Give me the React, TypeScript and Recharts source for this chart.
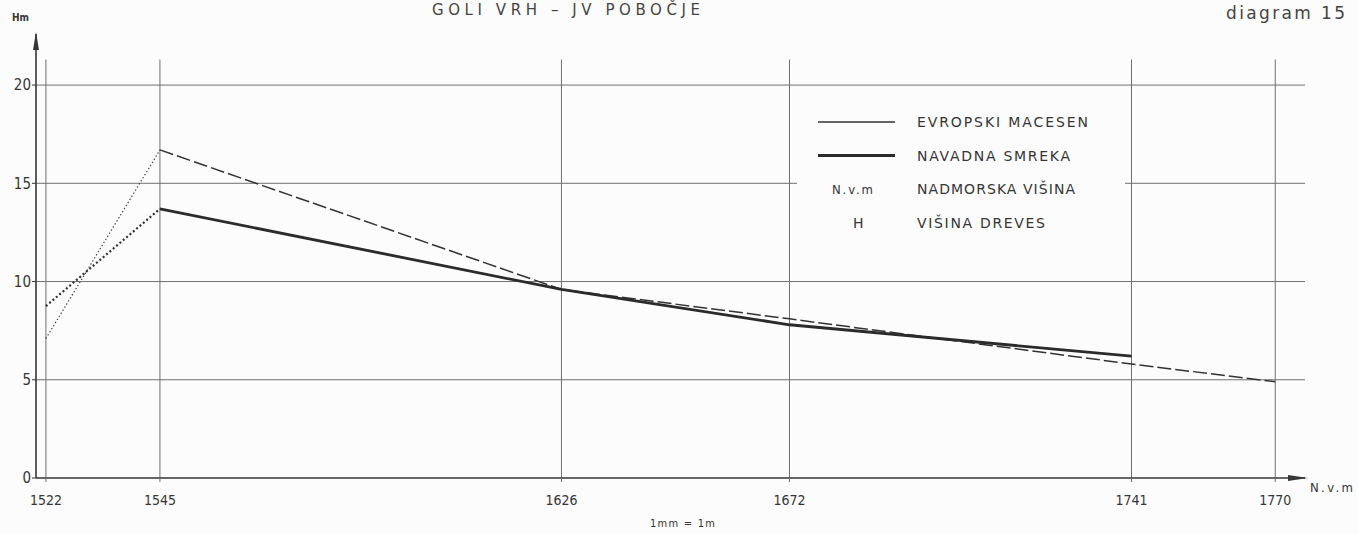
import React from "react";
import { LineChart, Line, XAxis, YAxis, ReferenceLine, ReferenceDot } from "recharts";

// N.v.m (altitude, m) of each plot
const altitudes = [1522, 1545, 1626, 1672, 1741, 1770];
// H (tree height, m) — Evropski macesen (European larch)
const macesenHeights: (number | null)[] = [7.1, 16.7, 9.6, 8.1, 5.8, 4.9];
// H (tree height, m) — Navadna smreka (Norway spruce)
const smrekaHeights: (number | null)[] = [8.75, 13.7, 9.6, 7.8, 6.2, null];
const yTicks = [0, 5, 10, 15, 20];
const xDomain = [1520, 1776];
const yDomain = [0, 22.6];
const gridTop = 21.3;

const legendSeries = ["EVROPSKI MACESEN", "NAVADNA SMREKA"];
const legendSymbols = [
  { sym: "N.v.m", text: "NADMORSKA VIŠINA" },
  { sym: "H", text: "VIŠINA DREVES" },
];

// first segment (1522 -> 1545) is drawn dotted, the rest in the series style
const data = altitudes.map((x, i) => ({
  x,
  macesenLink: i <= 1 ? macesenHeights[i] : null,
  smrekaLink: i <= 1 ? smrekaHeights[i] : null,
  macesen: i >= 1 ? macesenHeights[i] : null,
  smreka: i >= 1 ? smrekaHeights[i] : null,
}));

const INK = "#363636";
const GRID = "#707070";
const COND = "'DejaVu Sans Condensed', 'Liberation Sans Narrow', sans-serif";
const SANS = "'DejaVu Sans', sans-serif";

export default function App() {
  return (
    <div style={{ position: "absolute", left: 0, top: 0, width: 1358, height: 534, background: "#fcfcfc", overflow: "hidden" }}>
      <LineChart width={1358} height={534} data={data} margin={{ top: 34, right: 53, left: 0, bottom: 0 }}>
        {yTicks.filter((t) => t > 0).map((t) => (
          <ReferenceLine
            key={"h" + t}
            segment={[{ x: xDomain[0], y: t }, { x: xDomain[1], y: t }]}
            stroke={GRID}
            strokeWidth={1}
          />
        ))}
        {altitudes.map((a) => (
          <ReferenceLine
            key={a}
            segment={[{ x: a, y: 0 }, { x: a, y: gridTop }]}
            stroke={GRID}
            strokeWidth={1}
          />
        ))}
        <XAxis
          dataKey="x"
          type="number"
          domain={xDomain}
          ticks={altitudes}
          interval={0}
          allowDataOverflow
          height={56}
          axisLine={{ stroke: INK, strokeWidth: 1.6 }}
          tickLine={{ stroke: GRID }}
          tickSize={4}
          tickMargin={13}
          tick={{ fontSize: 14, fill: INK, fontFamily: COND }}
        />
        <YAxis
          type="number"
          domain={yDomain}
          ticks={yTicks}
          interval={0}
          allowDataOverflow
          width={36}
          axisLine={{ stroke: INK, strokeWidth: 1.6 }}
          tickLine={{ stroke: INK }}
          tickSize={4}
          tickMargin={1}
          tick={{ fontSize: 15, fill: INK, fontFamily: COND }}
        />
        <ReferenceDot
          x={xDomain[0]}
          y={yDomain[1]}
          r={0}
          shape={(p: any) => (
            <path d={`M${p.cx} ${p.cy - 2} L${p.cx - 3} ${p.cy + 16} L${p.cx + 3} ${p.cy + 16} Z`} fill={INK} />
          )}
        />
        <ReferenceDot
          x={xDomain[1]}
          y={0}
          r={0}
          shape={(p: any) => (
            <path d={`M${p.cx + 3} ${p.cy} L${p.cx - 17} ${p.cy - 3} L${p.cx - 17} ${p.cy + 3} Z`} fill={INK} />
          )}
        />
        <Line type="linear" dataKey="macesenLink" stroke="#444" strokeWidth={1.2} strokeDasharray="1.4 2.2" dot={false} isAnimationActive={false} />
        <Line type="linear" dataKey="smrekaLink" stroke="#333" strokeWidth={2.2} strokeDasharray="2 2.4" dot={false} isAnimationActive={false} />
        <Line type="linear" dataKey="macesen" stroke="#333" strokeWidth={1.5} strokeDasharray="14 4" dot={false} isAnimationActive={false} />
        <Line type="linear" dataKey="smreka" stroke="#2b2b2b" strokeWidth={2.8} dot={false} isAnimationActive={false} />
      </LineChart>

      <svg width={1358} height={534} style={{ position: "absolute", left: 0, top: 0, pointerEvents: "none" }}>
        <text x={432} y={15} fontSize={15} fontFamily={SANS} fill="#444" textLength={268} lengthAdjust="spacing">
          GOLI VRH – JV POBOČJE
        </text>
        <text x={1226} y={19} fontSize={17} fontFamily={SANS} fill="#444" textLength={119} lengthAdjust="spacing">
          diagram 15
        </text>
        <text x={12} y={21} fontSize={11} fontWeight="bold" fontFamily={SANS} fill={INK} textLength={17} lengthAdjust="spacingAndGlyphs">
          Hm
        </text>
        <text x={1310} y={492} fontSize={13} fontFamily={COND} fill={INK} textLength={43} lengthAdjust="spacing">
          N.v.m
        </text>
        <text x={650} y={527} fontSize={11} fontFamily={COND} fill={INK} textLength={65} lengthAdjust="spacing">
          1mm = 1m
        </text>

        <rect x={797} y={98} width={328} height={140} fill="#fcfcfc" />
        <line x1={818} x2={895} y1={122} y2={122} stroke="#333" strokeWidth={1.3} />
        <line x1={818} x2={895} y1={155.5} y2={155.5} stroke="#2b2b2b" strokeWidth={3} />
        <text x={917} y={127} fontSize={14} fontFamily={SANS} fill={INK} textLength={171} lengthAdjust="spacing">
          {legendSeries[0]}
        </text>
        <text x={917} y={160.5} fontSize={14} fontFamily={SANS} fill={INK} textLength={153} lengthAdjust="spacing">
          {legendSeries[1]}
        </text>
        <text x={832} y={194} fontSize={13} fontFamily={COND} fill={INK} textLength={41} lengthAdjust="spacing">
          {legendSymbols[0].sym}
        </text>
        <text x={917} y={194} fontSize={14} fontFamily={SANS} fill={INK} textLength={158} lengthAdjust="spacing">
          {legendSymbols[0].text}
        </text>
        <text x={853} y={227.5} fontSize={14} fontFamily={SANS} fill={INK}>
          {legendSymbols[1].sym}
        </text>
        <text x={917} y={227.5} fontSize={14} fontFamily={SANS} fill={INK} textLength={128} lengthAdjust="spacing">
          {legendSymbols[1].text}
        </text>
      </svg>
    </div>
  );
}
